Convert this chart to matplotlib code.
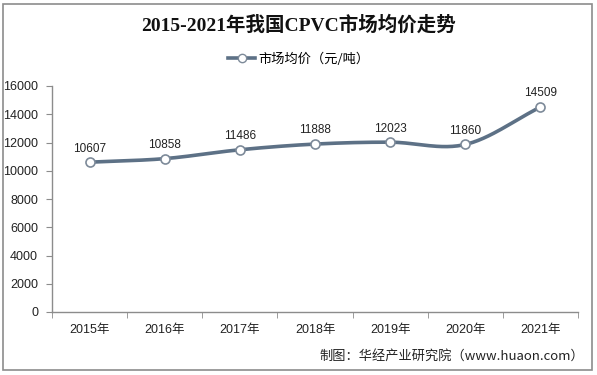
import numpy as np
import matplotlib
matplotlib.use("Agg")
import matplotlib.pyplot as plt
from matplotlib.patches import Rectangle
from matplotlib.lines import Line2D

plt.rcParams['font.family'] = ['Liberation Sans', 'Noto Sans CJK SC', 'DejaVu Sans']

years = ["2015年", "2016年", "2017年", "2018年", "2019年", "2020年", "2021年"]
prices = [10607, 10858, 11486, 11888, 12023, 11860, 14509]
yticks = [0, 2000, 4000, 6000, 8000, 10000, 12000, 14000, 16000]
title = "2015-2021年我国CPVC市场均价走势"
series_name = "市场均价（元/吨）"
source = "制图：华经产业研究院（www.huaon.com）"

W, H = 597, 375
fig = plt.figure(figsize=(W / 100, H / 100), dpi=100)
fig.patch.set_facecolor("white")
fig.add_artist(Rectangle((3 / W, 5 / H), 589 / W, 366 / H, transform=fig.transFigure,
                         fill=False, edgecolor="#8c8c8c", linewidth=1.2))

ax = fig.add_axes([52 / W, 1 - 312 / H, (578 - 52) / W, (312 - 86) / H])
x = np.arange(len(years))
y = np.array(prices, dtype=float)

# Smooth (Catmull-Rom) path through the data points, like Excel's smoothed line
def catmull(xs, ys, n=30):
    px = np.concatenate([[2 * xs[0] - xs[1]], xs, [2 * xs[-1] - xs[-2]]])
    py = np.concatenate([[2 * ys[0] - ys[1]], ys, [2 * ys[-1] - ys[-2]]])
    ox, oy = [], []
    t = np.linspace(0, 1, n)
    for i in range(1, len(px) - 2):
        p0, p1, p2, p3 = [np.array([px[j], py[j]]) for j in range(i - 1, i + 3)]
        c1 = p1 + (p2 - p0) / 6
        c2 = p2 - (p3 - p1) / 6
        b = ((1 - t) ** 3)[:, None] * p1 + (3 * (1 - t) ** 2 * t)[:, None] * c1 \
            + (3 * (1 - t) * t ** 2)[:, None] * c2 + (t ** 3)[:, None] * p2
        ox.extend(b[:, 0]); oy.extend(b[:, 1])
    return np.array(ox), np.array(oy)

sx, sy = catmull(x.astype(float), y)
line_color = "#5d7186"
ax.plot(sx, sy, color=line_color, linewidth=2.6, solid_capstyle="round", zorder=2)
ax.plot(x, y, linestyle="none", marker="o", markersize=6.5, markerfacecolor="white",
        markeredgecolor="#7d8a99", markeredgewidth=1.2, zorder=3)
for xi, yi in zip(x, prices):
    ax.annotate(f"{yi}", (xi, yi), xytext=(0, 5.5), textcoords="offset points",
                ha="center", va="bottom", fontsize=8.5, color="#222222")

ax.set_xlim(-0.5, len(years) - 0.5)
ax.set_ylim(0, 16000)
ax.set_yticks(yticks)
ax.set_yticklabels([str(v) for v in yticks], fontsize=9, color="#222222")
ax.set_xticks(x)
ax.set_xticklabels(years, fontsize=9, color="#222222")
ax.set_xticks(np.arange(len(years) + 1) - 0.5, minor=True)
ax.tick_params(axis="x", which="major", length=0, pad=9)
ax.tick_params(axis="x", which="minor", length=4, color="#8c8c8c", direction="out")
ax.tick_params(axis="y", length=4, color="#8c8c8c", direction="out", pad=6)
for s in ["top", "right"]:
    ax.spines[s].set_visible(False)
for s in ["left", "bottom"]:
    ax.spines[s].set_color("#8c8c8c")
    ax.spines[s].set_linewidth(1.0)

fig.text(0.5, 1 - 25 / H, title, ha="center", va="center", fontsize=14,
         fontweight="bold", color="#111111",
         family=['Liberation Serif', 'Noto Sans CJK SC', 'DejaVu Sans'])

# legend
h = Line2D([0], [0], color=line_color, linewidth=2.6, marker="o", markersize=6,
           markerfacecolor="white", markeredgecolor="#7d8a99")
fig.legend([h], [series_name], loc="center", bbox_to_anchor=(0.5, 1 - 59 / H),
           frameon=False, fontsize=9.5, handlelength=2.1, handletextpad=0.2,
           prop={'family': ['Noto Sans CJK SC', 'DejaVu Sans'], 'size': 9.5})

fig.text(584 / W, 1 - 356 / H, source, ha="right", va="center", fontsize=9.5, color="#222222",
         family=['Noto Sans CJK SC', 'DejaVu Sans'])

fig.savefig("out.png", dpi=100)
